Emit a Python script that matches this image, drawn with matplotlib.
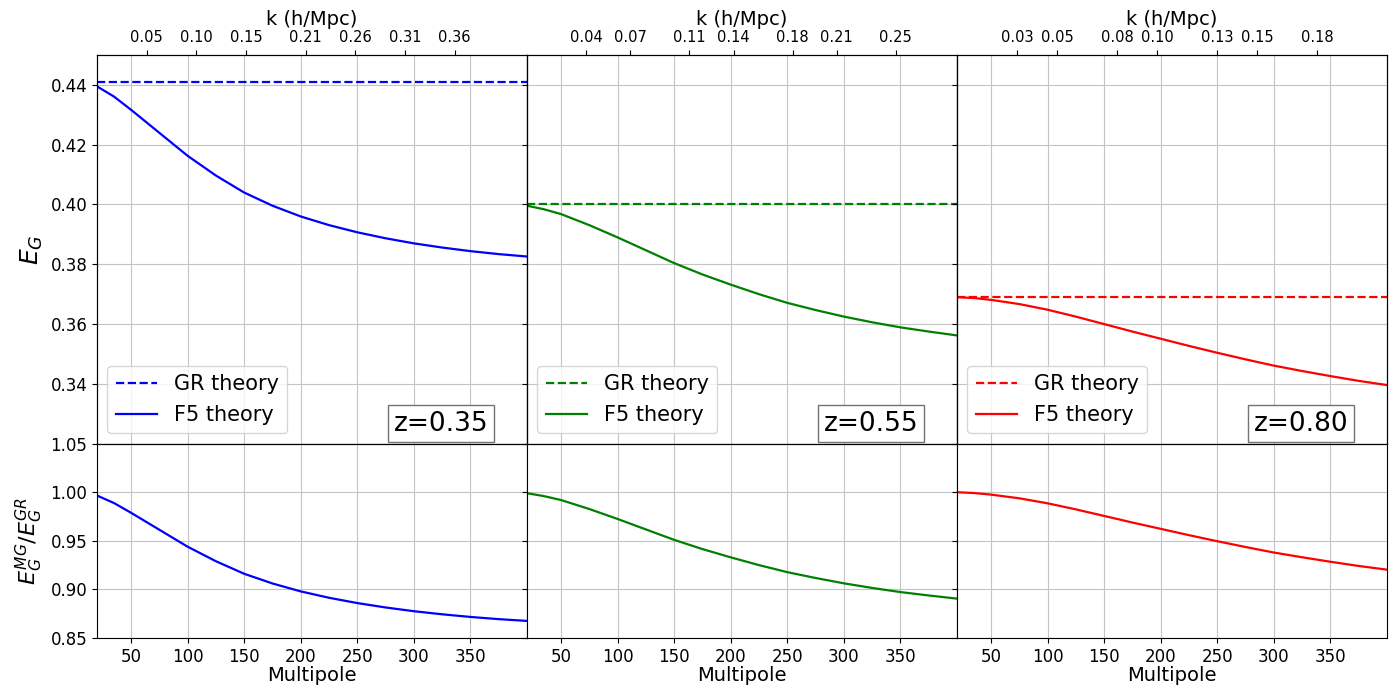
import numpy as np
import matplotlib
matplotlib.use("Agg")
import matplotlib.pyplot as plt

# multipoles where E_G was evaluated
ell = [20, 35, 50, 75, 100, 125, 150, 175, 200, 225, 250, 275, 300, 325, 350, 375, 400]

redshifts = ["0.35", "0.55", "0.80"]
colors = ["blue", "green", "red"]

# GR prediction (scale independent) for each redshift bin
eg_gr = [0.441, 0.400, 0.369]

# F5 (f(R)) prediction vs multipole
eg_f5_z035 = [0.4395, 0.4361, 0.4317, 0.4240, 0.4163, 0.4097, 0.4040, 0.3996, 0.3960,
              0.3931, 0.3907, 0.3887, 0.3870, 0.3856, 0.3844, 0.3834, 0.3826]
eg_f5_z055 = [0.3996, 0.3984, 0.3968, 0.3931, 0.3890, 0.3847, 0.3804, 0.3766, 0.3732,
              0.3700, 0.3671, 0.3647, 0.3625, 0.3606, 0.3589, 0.3575, 0.3562]
eg_f5_z080 = [0.3690, 0.3687, 0.3681, 0.3667, 0.3648, 0.3625, 0.3600, 0.3575, 0.3551,
              0.3527, 0.3504, 0.3482, 0.3461, 0.3443, 0.3426, 0.3410, 0.3396]
eg_f5 = [eg_f5_z035, eg_f5_z055, eg_f5_z080]

# top axis: k = ell / chi(z), ticks labelled at the rounded k values
k_max = [0.433, 0.2915, 0.215]
k_ticks = [[0.05, 0.10, 0.15, 0.21, 0.26, 0.31, 0.36],
           [0.04, 0.07, 0.11, 0.14, 0.18, 0.21, 0.25],
           [0.03, 0.05, 0.08, 0.10, 0.13, 0.15, 0.18]]

fig, axes = plt.subplots(2, 3, figsize=(13.92, 6.86), dpi=100, sharex="col", sharey="row",
                         gridspec_kw=dict(height_ratios=[2, 1], wspace=0, hspace=0,
                                          left=0.0697, right=0.9964, top=0.9198, bottom=0.070))

for i in range(3):
    ax, axr = axes[0, i], axes[1, i]
    f5 = np.array(eg_f5[i])
    ax.plot(ell, [eg_gr[i]] * len(ell), ls="--", color=colors[i], lw=1.6, label="GR theory")
    ax.plot(ell, f5, color=colors[i], lw=1.6, label="F5 theory")
    axr.plot(ell, f5 / eg_gr[i], color=colors[i], lw=1.6)

    ax.grid(True, color="#c4c4c4"); axr.grid(True, color="#c4c4c4")
    ax.legend(loc="lower left", fontsize=15)
    ax.text(0.69, 0.018, "z=" + redshifts[i], transform=ax.transAxes, fontsize=19,
            ha="left", va="bottom", bbox=dict(facecolor="white", edgecolor="0.45"))
    axr.set_xlabel("Multipole", fontsize=14, labelpad=0)
    axr.tick_params(labelsize=12)
    ax.tick_params(labelsize=12)

    ax2 = ax.twiny()
    ax2.set_xlim(0, k_max[i])
    ax2.set_xticks(k_ticks[i])
    ax2.set_xticklabels([f"{v:.2f}" for v in k_ticks[i]], fontsize=10.5)
    ax2.set_xlabel("k (h/Mpc)", fontsize=14)

axes[0, 0].set_xlim(20, 400)
for ax in axes[1]:
    ax.set_xlim(20, 400)
    ax.set_xticks([50, 100, 150, 200, 250, 300, 350])
axes[0, 0].set_ylim(0.32, 0.45)
axes[0, 0].set_yticks([0.34, 0.36, 0.38, 0.40, 0.42, 0.44])
axes[1, 0].set_ylim(0.85, 1.05)
axes[1, 0].set_yticks([0.85, 0.90, 0.95, 1.00, 1.05])
axes[0, 0].set_ylabel("$E_G$", fontsize=18)
axes[1, 0].set_ylabel("$E_G^{MG}/E_G^{GR}$", fontsize=16)

plt.savefig("out.png", dpi=100)
plt.close()
